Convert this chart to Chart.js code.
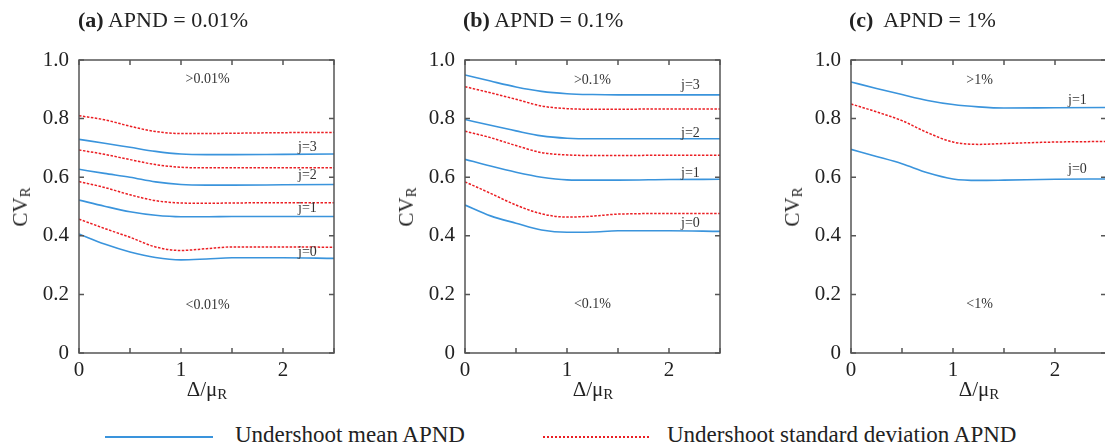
<!DOCTYPE html>
<html><head><meta charset="utf-8">
<script src="https://cdn.jsdelivr.net/npm/chart.js@4"></script>
<style>
html,body{margin:0;padding:0}
body{width:1105px;height:448px;overflow:hidden;background:#fff;position:relative;font-family:"Liberation Serif","Times New Roman",serif;color:#222}
canvas{position:absolute;top:0}
.t{position:absolute;line-height:20px;white-space:nowrap}
.t sub{font-size:15px;position:relative;top:3px;vertical-align:baseline}
.ttl{font-size:22px}
.ax{font-size:21px}
.leg{font-size:23px}
.yt{transform:translate(-50%,-50%) rotate(-90deg)}
.xt{transform:translateX(-50%)}
.lg{position:absolute;height:1.5px}
</style></head><body>
<canvas id="ca" width="370" height="400" style="left:0px"></canvas>
<canvas id="cb" width="370" height="400" style="left:386px"></canvas>
<canvas id="cc" width="370" height="400" style="left:772px"></canvas>

<div class="t ttl" style="left:78px;top:10px"><b>(a)</b> APND = 0.01%</div>
<div class="t ttl" style="left:463px;top:10px"><b>(b)</b> APND = 0.1%</div>
<div class="t ttl" style="left:849px;top:10px"><b>(c)</b>&nbsp; APND = 1%</div>

<div class="t ax yt" style="left:21px;top:207px">CV<sub>R</sub></div>
<div class="t ax yt" style="left:407px;top:207px">CV<sub>R</sub></div>
<div class="t ax yt" style="left:793px;top:207px">CV<sub>R</sub></div>

<div class="t ax xt" style="left:207px;top:379px">Δ/μ<sub>R</sub></div>
<div class="t ax xt" style="left:593px;top:379px">Δ/μ<sub>R</sub></div>
<div class="t ax xt" style="left:979px;top:379px">Δ/μ<sub>R</sub></div>

<div class="lg" style="left:105px;top:436px;width:108px;background:rgb(58,148,220)"></div>
<div class="t leg" style="left:235px;top:425px">Undershoot mean APND</div>
<div class="lg" style="left:543px;top:436px;width:107px;background:repeating-linear-gradient(90deg,rgb(235,30,35) 0 2.5px,transparent 2.5px 4px)"></div>
<div class="t leg" style="left:667px;top:425px">Undershoot standard deviation APND</div>

<script>
// ---- data ----
const X_POS = [0, 0.25, 0.5, 0.75, 1.0, 1.25, 1.5, 2.0, 2.5];
const Y_TICKS = [0, 0.2, 0.4, 0.6, 0.8, 1.0];
const X_TICK_LABELS = [0, 1, 2];

// Panel (a) APND = 0.01%
const A_MEAN_J3 = [0.729, 0.716, 0.702, 0.688, 0.679, 0.677, 0.677, 0.678, 0.679];
const A_STD_J3  = [0.810, 0.796, 0.774, 0.756, 0.749, 0.749, 0.750, 0.752, 0.753];
const A_MEAN_J2 = [0.627, 0.613, 0.600, 0.584, 0.575, 0.573, 0.573, 0.574, 0.575];
const A_STD_J2  = [0.693, 0.678, 0.660, 0.643, 0.634, 0.632, 0.632, 0.632, 0.632];
const A_MEAN_J1 = [0.522, 0.501, 0.482, 0.470, 0.465, 0.465, 0.466, 0.466, 0.466];
const A_STD_J1  = [0.585, 0.565, 0.540, 0.520, 0.512, 0.511, 0.512, 0.513, 0.513];
const A_MEAN_J0 = [0.406, 0.372, 0.345, 0.326, 0.318, 0.321, 0.325, 0.325, 0.323];
const A_STD_J0  = [0.457, 0.425, 0.395, 0.362, 0.350, 0.356, 0.362, 0.362, 0.361];

// Panel (b) APND = 0.1%
const B_MEAN_J3 = [0.949, 0.928, 0.908, 0.893, 0.885, 0.882, 0.881, 0.881, 0.881];
const B_STD_J2  = [0.909, 0.888, 0.866, 0.843, 0.834, 0.832, 0.832, 0.833, 0.833];
const B_MEAN_J2 = [0.797, 0.777, 0.758, 0.741, 0.733, 0.731, 0.731, 0.731, 0.731];
const B_STD_J1  = [0.757, 0.735, 0.708, 0.684, 0.676, 0.674, 0.674, 0.675, 0.675];
const B_MEAN_J1 = [0.661, 0.638, 0.617, 0.600, 0.591, 0.590, 0.590, 0.592, 0.593];
const B_STD_J0  = [0.584, 0.545, 0.505, 0.475, 0.464, 0.467, 0.474, 0.476, 0.476];
const B_MEAN_J0 = [0.505, 0.468, 0.443, 0.420, 0.412, 0.413, 0.417, 0.417, 0.415];

// Panel (c) APND = 1%
const C_MEAN_J1 = [0.925, 0.903, 0.882, 0.862, 0.848, 0.840, 0.836, 0.837, 0.838];
const C_STD_J0  = [0.850, 0.823, 0.793, 0.752, 0.720, 0.712, 0.715, 0.720, 0.722];
const C_MEAN_J0 = [0.695, 0.671, 0.646, 0.615, 0.594, 0.589, 0.590, 0.593, 0.594];

// in-plot annotations: [text, x, y] in data units
const A_NOTES = [['>0.01%',1.26,0.935],['<0.01%',1.26,0.164],['j=3',2.24,0.703],['j=2',2.24,0.608],['j=1',2.24,0.495],['j=0',2.24,0.345]];
const B_NOTES = [['>0.1%',1.25,0.932],['<0.1%',1.25,0.166],['j=3',2.21,0.912],['j=2',2.21,0.749],['j=1',2.21,0.614],['j=0',2.21,0.444]];
const C_NOTES = [['>1%',1.26,0.932],['<1%',1.26,0.166],['j=1',2.22,0.864],['j=0',2.22,0.627]];

// ---- styling / building ----
const BLUE = 'rgb(58,148,220)';
const RED = 'rgb(235,30,35)';
const FONT = '"Liberation Serif","Times New Roman",serif';

function pts(vals){ return vals.map((v,i)=>({x:X_POS[i], y:v})); }
function mean(vals){ return {data:pts(vals), borderColor:BLUE, borderWidth:1.6, pointRadius:0, cubicInterpolationMode:'monotone', fill:false}; }
function std(vals){ return {data:pts(vals), borderColor:RED, borderWidth:1.5, borderDash:[2.5,1.5], pointRadius:0, cubicInterpolationMode:'monotone', fill:false}; }

const framePlugin = {
  id:'frame',
  afterDraw(chart){
    const {ctx, chartArea:{left,right,top,bottom}, scales:{x,y}} = chart;
    ctx.save();
    ctx.strokeStyle='#555'; ctx.lineWidth=1.5;
    ctx.strokeRect(left,top,right-left,bottom-top);
    const L=5;
    ctx.beginPath();
    x.ticks.forEach(t=>{const p=x.getPixelForValue(t.value); ctx.moveTo(p,bottom); ctx.lineTo(p,bottom-L); ctx.moveTo(p,top); ctx.lineTo(p,top+L);});
    y.ticks.forEach(t=>{const p=y.getPixelForValue(t.value); ctx.moveTo(left,p); ctx.lineTo(left+L,p); ctx.moveTo(right,p); ctx.lineTo(right-L,p);});
    ctx.stroke();
    ctx.fillStyle='#333'; ctx.font='14px '+FONT; ctx.textAlign='center'; ctx.textBaseline='middle';
    (chart.options.plugins.frame.notes||[]).forEach(([s,ax,ay])=>{
      ctx.fillText(s, x.getPixelForValue(ax), y.getPixelForValue(ay));
    });
    ctx.restore();
  }
};

function makeChart(id, datasets, notes){
  new Chart(document.getElementById(id), {
    type:'line',
    data:{datasets},
    options:{
      responsive:false, animation:false, events:[],
      layout:{padding:{left:0, top:60, right:36, bottom:17}},
      plugins:{legend:{display:false}, tooltip:{enabled:false}, frame:{notes}},
      scales:{
        x:{type:'linear', min:0, max:2.5,
           grid:{display:false, drawTicks:false}, border:{display:false},
           ticks:{stepSize:0.5, autoSkip:false, maxRotation:0, padding:5, color:'#222', font:{family:FONT, size:21},
                  callback:(v)=> X_TICK_LABELS.includes(v) ? String(v) : ''},
           afterFit:(s)=>{ s.height = 30; }},
        y:{type:'linear', min:0, max:1,
           grid:{display:false, drawTicks:false}, border:{display:false},
           afterBuildTicks:(s)=>{ s.ticks = Y_TICKS.map(v=>({value:v})); },
           ticks:{padding:10, color:'#222', font:{family:FONT, size:21},
                  callback:(v)=> v===0 ? '0' : v.toFixed(1)},
           afterFit:(s)=>{ s.width = 79; }}
      }
    },
    plugins:[framePlugin]
  });
}

makeChart('ca', [mean(A_MEAN_J3), std(A_STD_J3), mean(A_MEAN_J2), std(A_STD_J2), mean(A_MEAN_J1), std(A_STD_J1), mean(A_MEAN_J0), std(A_STD_J0)], A_NOTES);
makeChart('cb', [mean(B_MEAN_J3), std(B_STD_J2), mean(B_MEAN_J2), std(B_STD_J1), mean(B_MEAN_J1), std(B_STD_J0), mean(B_MEAN_J0)], B_NOTES);
makeChart('cc', [mean(C_MEAN_J1), std(C_STD_J0), mean(C_MEAN_J0)], C_NOTES);
</script>
</body></html>
